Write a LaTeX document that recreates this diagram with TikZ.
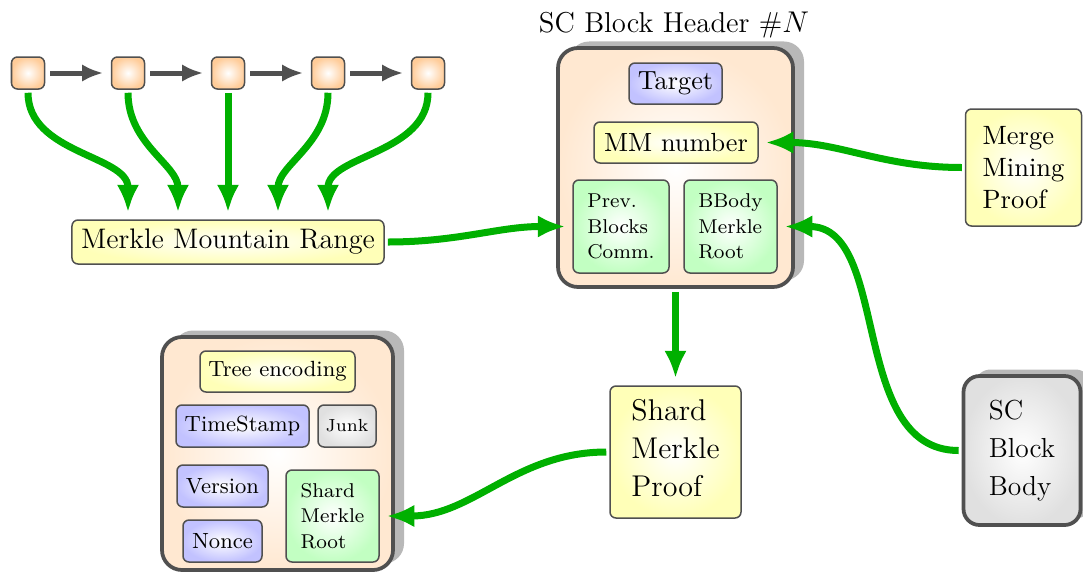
\documentclass[tikz,border=0pt]{standalone}
\usetikzlibrary{arrows.meta,shadows,calc}
\definecolor{edge}{RGB}{80,80,80}
\definecolor{grn}{RGB}{0,176,0}
\tikzset{
  box/.style={draw=edge, line width=0.6pt, rounded corners=2.4pt, inner sep=0pt, align=left},
  bigbox/.style={draw=edge, line width=1.5pt, rounded corners=8pt, inner sep=0pt, align=left,
    drop shadow={shadow xshift=4.4pt, shadow yshift=2.6pt, fill=black!28, opacity=1}},
  chainfill/.style={inner color=white, outer color=orange!40},
  orfill/.style={inner color=white, outer color=orange!18},
  yfill/.style={inner color=white, outer color=yellow!28},
  bfill/.style={inner color=white, outer color=blue!24},
  gfill/.style={inner color=white, outer color=green!24},
  grfill/.style={inner color=white, outer color=black!12},
  garrow/.style={draw=grn, line width=2.8pt, -{Latex[length=11pt,width=9pt]}, shorten >=2.8pt, shorten <=1.2pt},
  darrow/.style={draw=edge, line width=2pt, -{Latex[length=8.5pt,width=7pt]}, shorten >=3pt, shorten <=2pt},
  smallfont/.style={font=\fontsize{8}{10.2}\selectfont},
  midfont/.style={font=\fontsize{10.5}{12.6}\selectfont},
  lowfont/.style={font=\fontsize{8.8}{10.5}\selectfont},
}
\begin{document}
\begin{tikzpicture}[x=0.4pt,y=-0.4pt]
\useasboundingbox (0,0) rectangle (1083,573);
\clip (0,0) rectangle (1083,573);

% chain of blocks
\foreach \i/\xx in {1/28,2/128,3/228,4/328,5/428}{
  \node[box, chainfill, minimum width=13.2pt, minimum height=12.8pt] (c\i) at (\xx,73) {};
}
\draw[darrow] (c1.east) -- (c2.west);
\draw[darrow] (c2.east) -- (c3.west);
\draw[darrow] (c3.east) -- (c4.west);
\draw[darrow] (c4.east) -- (c5.west);

% Merkle Mountain Range
\node[box, yfill, minimum width=124.8pt, minimum height=17.6pt, font=\fontsize{11.3}{13.5}\selectfont] (mmr) at (228,242) {Merkle Mountain Range};

\draw[garrow] (c1.south) to[out=-90,in=90] ($(mmr.north)+(-100,0)$);
\draw[garrow] (c2.south) to[out=-90,in=90] ($(mmr.north)+(-50,0)$);
\draw[garrow] (c3.south) -- (mmr.north);
\draw[garrow] (c4.south) to[out=-90,in=90] ($(mmr.north)+(50,0)$);
\draw[garrow] (c5.south) to[out=-90,in=90] ($(mmr.north)+(100,0)$);

% SC block header
\node[bigbox, orfill, minimum width=94pt, minimum height=95.6pt] (hdr) at (675.5,167.5) {};
\node[font=\fontsize{11.5}{14}\selectfont] (ttl) at (674,25) {SC Block Header \#$N$};
\node[box, bfill, midfont, minimum width=37.2pt, minimum height=16.4pt] (tgt) at (675.5,83.5) {Target};
\node[box, yfill, midfont, minimum width=65.6pt, minimum height=16.4pt] (mmn) at (676,142.5) {MM number};
\node[box, gfill, smallfont, minimum width=38.4pt, minimum height=37.2pt] (prev) at (621,226.5) {Prev.\\Blocks\\Comm.};
\node[box, gfill, smallfont, minimum width=37.2pt, minimum height=37.2pt] (bbody) at (730.5,226.5) {BBody\\Merkle\\Root};

% Merge mining proof
\node[box, yfill, minimum width=46.4pt, minimum height=46.8pt, font=\fontsize{10.6}{12.8}\selectfont] (mmp) at (1023.5,167.5) {Merge\\Mining\\Proof};

% SC block body
\node[bigbox, grfill, rounded corners=6.4pt, minimum width=46.8pt, minimum height=59.6pt, font=\fontsize{11}{15.2}\selectfont] (scb) at (1022,450.5) {SC\\Block\\Body};

% Shard merkle proof
\node[box, yfill, minimum width=52.4pt, minimum height=52.8pt, font=\fontsize{12}{15.2}\selectfont] (smp) at (675.5,452) {Shard\\Merkle\\Proof\rule[-3.2pt]{0pt}{0pt}};

% shard block header
\node[bigbox, orfill, minimum width=92.4pt, minimum height=93.2pt] (shb) at (277.5,453.5) {};
\node[box, yfill, lowfont, minimum width=62pt, minimum height=16.4pt] (tree) at (277.5,371.5) {Tree encoding};
\node[box, bfill, lowfont, minimum width=53.2pt, minimum height=16.8pt] (ts) at (242.5,426) {TimeStamp};
\node[box, grfill, font=\fontsize{7}{8.4}\selectfont, minimum width=23.2pt, minimum height=16.8pt] (junk) at (347,426) {Junk};
\node[box, bfill, lowfont, minimum width=36.4pt, minimum height=16.8pt] (ver) at (222.5,486) {Version};
\node[box, bfill, lowfont, minimum width=31.6pt, minimum height=16.8pt] (nonce) at (222.5,541) {Nonce};
\node[box, gfill, smallfont, minimum width=37.2pt, minimum height=36.8pt] (smr) at (332.5,516) {Shard\\Merkle\\Root};

% connectors
\draw[garrow] (mmr.east) to[out=0,in=180] (prev.west);
\draw[garrow] (mmp.west) to[out=180,in=0] (mmn.east);
\draw[garrow] (scb.west) to[out=180,in=0] (bbody.east);
\draw[garrow] (hdr.south) -- (smp.north);
\draw[garrow] (smp.west) to[out=180,in=0] (smr.east);
\end{tikzpicture}
\end{document}
